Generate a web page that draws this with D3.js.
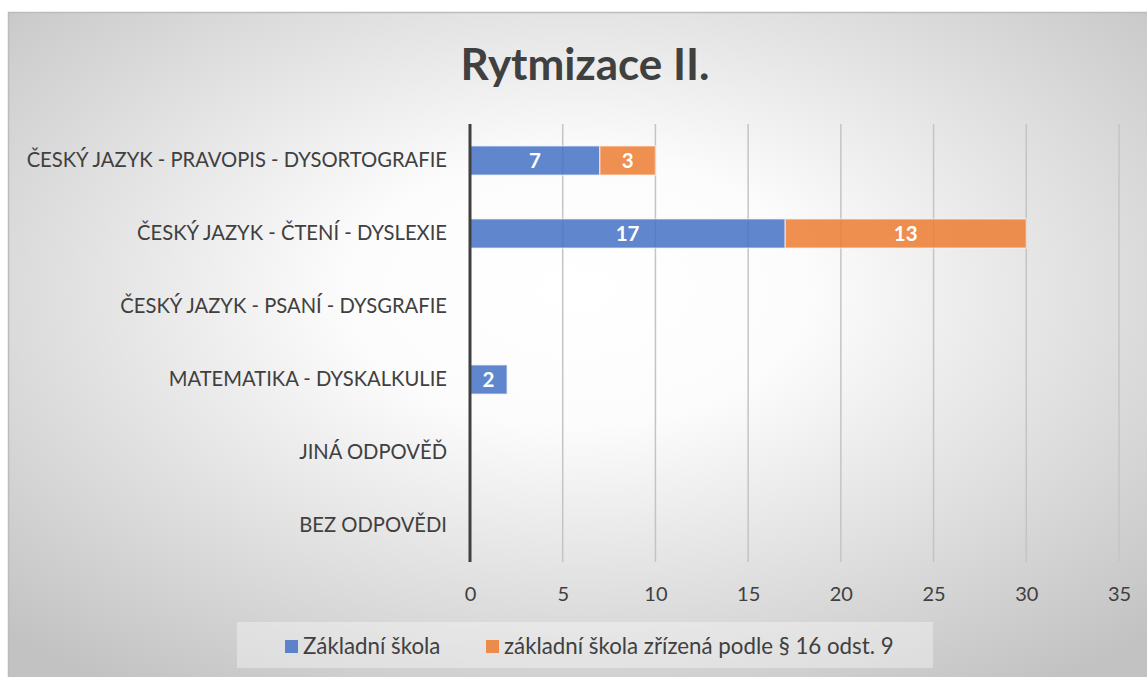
<!DOCTYPE html>
<html>
<head>
<meta charset="utf-8">
<script src="https://cdn.jsdelivr.net/npm/d3@7"></script>
<style>
  body { margin: 0; background: #fff; }
  svg text { font-family: Lato, "Open Sans", sans-serif; }
</style>
</head>
<body>
<div id="chart"></div>
<script>
// data
const categories = [
  'ČESKÝ JAZYK - PRAVOPIS - DYSORTOGRAFIE',
  'ČESKÝ JAZYK - ČTENÍ - DYSLEXIE',
  'ČESKÝ JAZYK - PSANÍ - DYSGRAFIE',
  'MATEMATIKA - DYSKALKULIE',
  'JINÁ ODPOVĚĎ',
  'BEZ ODPOVĚDI'
];
const seriesNames = ['Základní škola', 'základní škola zřízená podle § 16 odst. 9'];
const zakladni = [7, 17, 0, 2, 0, 0];
const zrizena = [3, 13, 0, 0, 0, 0];
const xTicks = [0, 5, 10, 15, 20, 25, 30, 35];
const title = 'Rytmizace II.';

const colors = ['#4472c4', '#ed7d31'];
const width = 1147, height = 677;
const margin = {top: 124, right: 28, bottom: 115, left: 470};

const svg = d3.select('#chart').append('svg')
  .attr('width', width)
  .attr('height', height);

// pozadi - radialni prechod
const defs = svg.append('defs');
const grad = defs.append('radialGradient')
  .attr('id', 'bg')
  .attr('cx', '0.5').attr('cy', '0.42').attr('r', '0.72');
grad.append('stop').attr('offset', '0').attr('stop-color', '#ffffff');
grad.append('stop').attr('offset', '0.28').attr('stop-color', '#fcfcfc');
grad.append('stop').attr('offset', '1').attr('stop-color', '#c2c2c2');

svg.append('rect')
  .attr('x', 8).attr('y', 12)
  .attr('width', width - 8).attr('height', height - 12)
  .attr('fill', 'url(#bg)');
svg.append('path')
  .attr('d', `M8.5,${height}V12.5H${width}`)
  .attr('fill', 'none')
  .attr('stroke', '#bcbcbc')
  .attr('stroke-width', 1.5);

// titulek
svg.append('text')
  .attr('x', 585).attr('y', 80)
  .attr('text-anchor', 'middle')
  .style('font-size', '44px')
  .style('font-weight', 'bold')
  .style('fill', '#404040')
  .text(title);

const x = d3.scaleLinear()
  .domain([0, 35])
  .range([margin.left, width - margin.right]);
const y = d3.scaleBand()
  .domain(categories)
  .range([margin.top, height - margin.bottom])
  .paddingInner(0.6)
  .paddingOuter(0.3);

const g = svg.append('g');

// mrizka
g.selectAll('.grid')
  .data(xTicks.slice(1))
  .join('line')
  .attr('class', 'grid')
  .attr('x1', d => x(d)).attr('x2', d => x(d))
  .attr('y1', margin.top).attr('y2', height - margin.bottom)
  .attr('stroke', '#c4c4c4')
  .attr('stroke-width', 1.5);

// popisky osy x
const xAxis = d3.axisBottom(x).tickValues(xTicks).tickSize(0).tickPadding(19);
const ax = g.append('g')
  .attr('transform', `translate(0,${height - margin.bottom + 6})`)
  .call(xAxis);
ax.select('.domain').remove();
ax.selectAll('text')
  .style('font-size', '20px')
  .style('fill', '#404040');

// popisky osy y
const yAxis = d3.axisLeft(y).tickSize(0).tickPadding(23);
const ay = g.append('g')
  .attr('transform', `translate(${margin.left},0)`)
  .call(yAxis);
ay.select('.domain').remove();
ay.selectAll('text')
  .style('font-size', '20.2px')
  .style('fill', '#404040');

// skladane sloupce
const rows = categories.map((c, i) => ({cat: c, vals: [zakladni[i], zrizena[i]]}));
const stack = d3.stack().keys([0, 1]).value((d, k) => d.vals[k]);
const layers = stack(rows);

const layer = g.selectAll('.layer')
  .data(layers)
  .join('g')
  .attr('class', 'layer');

layer.selectAll('rect')
  .data((d, i) => d.map(p => ({p, i})).filter(d => d.p[1] - d.p[0] > 0))
  .join('rect')
  .attr('x', d => x(d.p[0]))
  .attr('y', d => y(d.p.data.cat))
  .attr('width', d => x(d.p[1]) - x(d.p[0]))
  .attr('height', y.bandwidth())
  .attr('fill', d => colors[d.i])
  .attr('fill-opacity', 0.85)
  .attr('stroke', '#ffffff')
  .attr('stroke-opacity', 0.5)
  .attr('stroke-width', 1.5);

layer.selectAll('text')
  .data((d, i) => d.map(p => ({p, i})).filter(d => d.p[1] - d.p[0] > 0))
  .join('text')
  .attr('x', d => (x(d.p[0]) + x(d.p[1])) / 2)
  .attr('y', d => y(d.p.data.cat) + y.bandwidth() / 2)
  .attr('dy', '0.36em')
  .attr('text-anchor', 'middle')
  .style('font-size', '20.5px')
  .style('font-weight', 'bold')
  .style('fill', '#ffffff')
  .text(d => d.p[1] - d.p[0]);

// hlavni osa
g.append('line')
  .attr('x1', x(0)).attr('x2', x(0))
  .attr('y1', margin.top).attr('y2', height - margin.bottom)
  .attr('stroke', '#404040')
  .attr('stroke-width', 3);

// legenda
const leg = svg.append('g');
leg.append('rect')
  .attr('x', 237).attr('y', 622)
  .attr('width', 696).attr('height', 46)
  .attr('fill', '#ffffff')
  .attr('fill-opacity', 0.35);
const legX = [285, 486];
seriesNames.forEach((name, i) => {
  leg.append('rect')
    .attr('x', legX[i]).attr('y', 640)
    .attr('width', 13).attr('height', 13)
    .attr('fill', colors[i])
    .attr('fill-opacity', 0.85);
  leg.append('text')
    .attr('x', legX[i] + 18).attr('y', 654)
    .style('font-size', '22.3px')
    .style('fill', '#404040')
    .text(name);
});
</script>
</body>
</html>
